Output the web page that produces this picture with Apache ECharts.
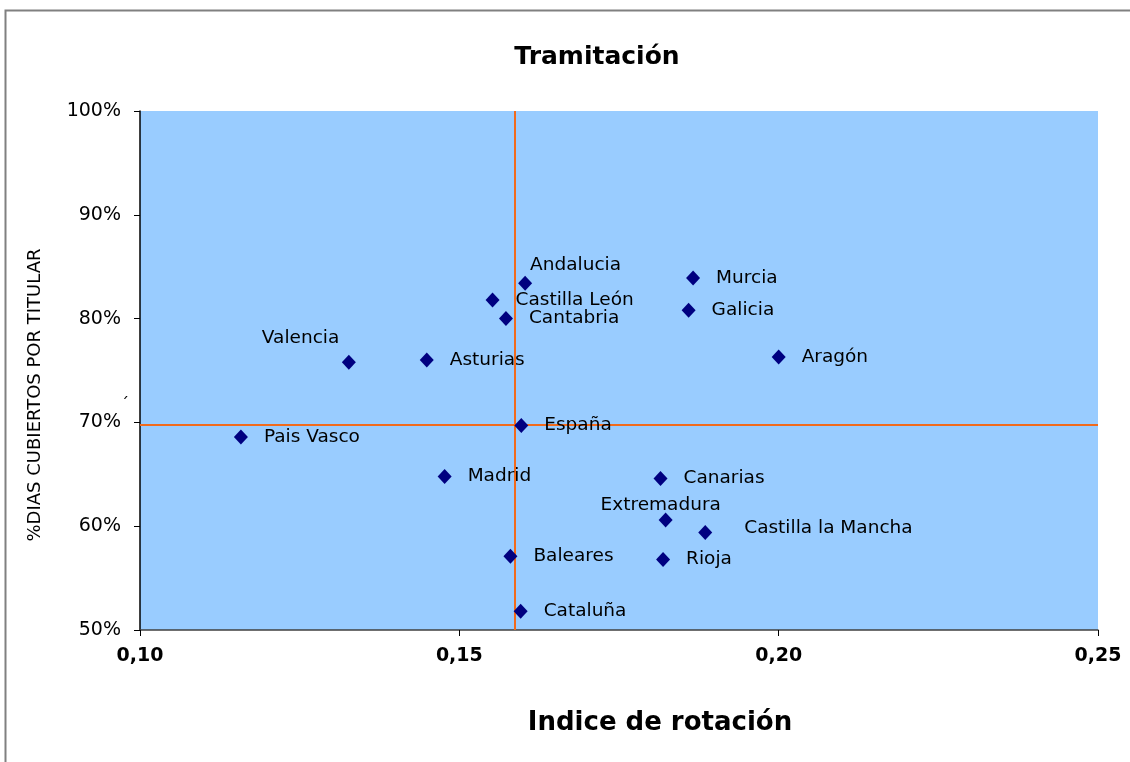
<!DOCTYPE html>
<html>
<head>
<meta charset="utf-8">
<script src="https://cdn.jsdelivr.net/npm/echarts@6/dist/echarts.min.js"></script>
<style>
html,body{margin:0;padding:0;background:#fff;}
#chart{width:1130px;height:762px;}
</style>
</head>
<body>
<div id="chart"></div>
<script>
// Data
const regions = ["Andalucia","Castilla León","Cantabria","Asturias","Valencia","Murcia","Galicia","Aragón","España","Pais Vasco","Madrid","Canarias","Extremadura","Castilla la Mancha","Baleares","Rioja","Cataluña"];
const rotationIndex = [0.1603,0.1552,0.1573,0.1449,0.1327,0.1866,0.1859,0.2000,0.1597,0.1158,0.1477,0.1815,0.1823,0.1885,0.1580,0.1819,0.1596];
const daysCovered = [83.4,81.8,80.0,76.0,75.8,83.9,80.8,76.3,69.7,68.6,64.8,64.6,60.6,59.4,57.1,56.8,51.8];
const refX = 0.1586;
const refY = 69.75;
const xTicks = [0.10,0.15,0.20,0.25];
const yTicks = [50,60,70,80,90,100];

// Label placement tweaks (styling only)
const labelOffsets = {
  "Andalucia":[-18,-18],
  "Valencia":[-110,-24],
  "Extremadura":[-88,-15],
  "Castilla la Mancha":[16,-4]
};

const FONT = "DejaVu Sans";
const points = regions.map((name,i)=>{
  const d = {name:name, value:[rotationIndex[i], daysCovered[i]]};
  if (labelOffsets[name]) d.label = {offset: labelOffsets[name]};
  return d;
});

const chart = echarts.init(document.getElementById('chart'), null, {renderer:'canvas'});
chart.setOption({
  animation:false,
  backgroundColor:'#ffffff',
  grid:{left:140, top:111, right:32, bottom:132, show:true, backgroundColor:'#99CCFF', borderWidth:0},
  xAxis:{
    type:'value', min:xTicks[0], max:xTicks[xTicks.length-1], interval:0.05,
    axisLine:{show:true, onZero:false, lineStyle:{color:'#404040', width:1.5}},
    axisTick:{show:true, length:6, lineStyle:{color:'#000'}},
    splitLine:{show:false},
    axisLabel:{fontFamily:FONT, fontSize:19, fontWeight:'bold', color:'#000', margin:17,
      formatter:v=>v.toFixed(2).replace('.',',')}
  },
  yAxis:{
    type:'value', min:yTicks[0], max:yTicks[yTicks.length-1], interval:10,
    axisLine:{show:true, onZero:false, lineStyle:{color:'#000', width:1.5}},
    axisTick:{show:true, length:6, lineStyle:{color:'#000'}},
    splitLine:{show:false},
    axisLabel:{fontFamily:FONT, fontSize:19, color:'#000', margin:19, formatter:'{value}%'}
  },
  series:[{
    type:'scatter',
    symbol:'diamond',
    symbolSize:[14,15],
    itemStyle:{color:'#000080', opacity:1},
    data:points,
    label:{show:true, position:'right', distance:16, formatter:'{b}',
      fontFamily:FONT, fontSize:18.5, color:'#000', opacity:1},
    markLine:{
      silent:true, symbol:'none',
      label:{show:false},
      lineStyle:{color:'#F26A1B', width:2, type:'solid', opacity:1},
      data:[
        [{coord:[refX, yTicks[0]]},{coord:[refX, yTicks[yTicks.length-1]]}],
        [{coord:[xTicks[0], refY]},{coord:[xTicks[xTicks.length-1], refY]}]
      ]
    },
    z:5
  }],
  graphic:[
    {type:'rect', shape:{x:5.5, y:10.5, width:1140, height:780}, style:{fill:'none', stroke:'#808080', lineWidth:2}, silent:true},
    {type:'text', x:597, y:57, style:{text:'Tramitación', font:'bold 25px "DejaVu Sans"', fill:'#000', textAlign:'center', textVerticalAlign:'middle'}},
    {type:'text', x:660, y:723, style:{text:'Indice de rotación', font:'bold 26px "DejaVu Sans"', fill:'#000', textAlign:'center', textVerticalAlign:'middle'}},
    {type:'text', x:35, y:395, rotation:Math.PI/2, style:{text:'%DIAS CUBIERTOS POR TITULAR', font:'18px "DejaVu Sans"', fill:'#000', textAlign:'center', textVerticalAlign:'middle'}},
    {type:'text', x:125, y:405, style:{text:'´', font:'16px "DejaVu Sans"', fill:'#000', textAlign:'center', textVerticalAlign:'middle'}}
  ]
});
</script>
</body>
</html>
